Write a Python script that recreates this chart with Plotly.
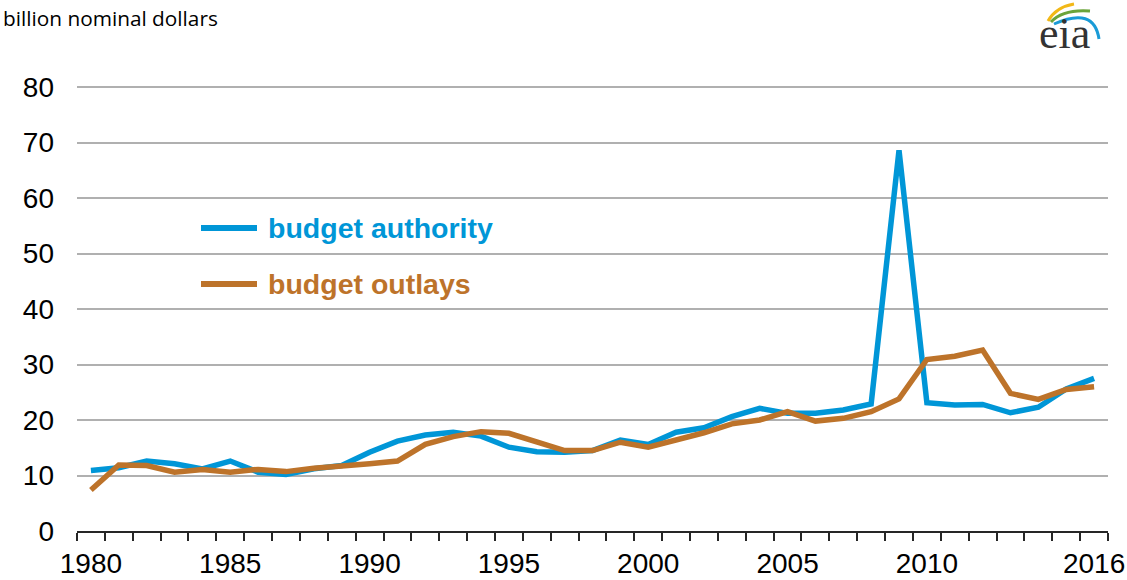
import plotly.graph_objects as go

years = list(range(1980, 2017))
budget_authority = [10.9, 11.4, 12.6, 12.1, 11.2, 12.6, 10.6, 10.2, 11.2, 11.8,
                    14.2, 16.2, 17.3, 17.8, 17.1, 15.1, 14.3, 14.2, 14.5, 16.4,
                    15.6, 17.8, 18.6, 20.6, 22.1, 21.2, 21.2, 21.8, 22.9, 68.6,
                    23.1, 22.7, 22.8, 21.3, 22.3, 25.6, 27.5]
budget_outlays = [7.4, 11.9, 11.8, 10.6, 11.1, 10.6, 11.1, 10.7, 11.3, 11.6,
                  12.1, 12.6, 15.6, 17.0, 17.9, 17.6, 16.1, 14.5, 14.5, 16.0,
                  15.1, 16.4, 17.7, 19.3, 20.0, 21.5, 19.8, 20.3, 21.5, 23.8,
                  30.9, 31.5, 32.6, 24.8, 23.7, 25.5, 26.0]
x_tick_vals = [1980, 1985, 1990, 1995, 2000, 2005, 2010, 2016]
y_tick_vals = [0, 10, 20, 30, 40, 50, 60, 70, 80]

BLUE = "#0096D7"
ORANGE = "#BD732A"

W, H = 1127, 580
L, R, T, B = 77, 19, 85, 49
PW, PH = W - L - R, H - T - B


def px(x, y):
    """pixel position -> paper coordinates (for decorations only)"""
    return (x - L) / PW, (H - B - y) / PH


fig = go.Figure()
fig.add_trace(go.Scatter(x=years, y=budget_authority, mode="lines",
                         line=dict(color=BLUE, width=5.5), name="budget authority",
                         showlegend=False))
fig.add_trace(go.Scatter(x=years, y=budget_outlays, mode="lines",
                         line=dict(color=ORANGE, width=5.5), name="budget outlays",
                         showlegend=False))

shapes = []
annotations = []

# legend (manual)
for (lx, ly, col, txt) in [(201, 228, BLUE, "budget authority"),
                           (201, 284, ORANGE, "budget outlays")]:
    x0, y0 = px(lx, ly)
    x1, _ = px(lx + 56, ly)
    shapes.append(dict(type="line", xref="paper", yref="paper", x0=x0, x1=x1,
                       y0=y0, y1=y0, line=dict(color=col, width=6)))
    tx, ty = px(lx + 65, ly)
    annotations.append(dict(xref="paper", yref="paper", x=tx, y=ty,
                            xanchor="left", yanchor="middle", showarrow=False,
                            text="<b>" + txt + "</b>",
                            font=dict(family="Liberation Sans, Arial", size=28.5, color=col)))

# unit label
ux, uy = px(1, 18)
annotations.append(dict(xref="paper", yref="paper", x=ux, y=uy, xanchor="left",
                        yanchor="middle", showarrow=False, text="billion nominal dollars",
                        font=dict(family="Open Sans", size=20.8, color="#000000")))

# eia logo
ex, ey = px(1064, 33)
annotations.append(dict(xref="paper", yref="paper", x=ex, y=ey, xanchor="center",
                        yanchor="middle", showarrow=False, text="eia",
                        font=dict(family="Liberation Serif", size=44, color="#333333")))


def path(points):
    pts = [px(a, b) for a, b in points]
    s = "M%.5f,%.5f" % pts[0]
    s += " Q%.5f,%.5f %.5f,%.5f" % (pts[1] + pts[2])
    return s


for pts, col, w in [([(1048, 21), (1056, 7), (1074, 4)], "#F2B817", 3),
                    ([(1051, 22), (1063, 9), (1090, 11)], "#6BA43A", 3),
                    ([(1054, 24), (1094, 6), (1099, 39)], "#1A9BD7", 3)]:
    shapes.append(dict(type="path", xref="paper", yref="paper", path=path(pts),
                       line=dict(color=col, width=w)))

fig.update_layout(
    width=W, height=H, autosize=False,
    margin=dict(l=L, r=R, t=T, b=B, pad=0),
    paper_bgcolor="white", plot_bgcolor="white",
    showlegend=False,
    shapes=shapes, annotations=annotations,
    xaxis=dict(range=[1979.5, 2016.5], tickmode="array", tickvals=x_tick_vals,
               ticktext=[str(v) for v in x_tick_vals], ticks="", showgrid=False,
               zeroline=False, showline=True, linecolor="#262626", linewidth=2,
               automargin=False,
               tickfont=dict(family="Liberation Sans, Arial", size=28, color="#000000"),
               ticklabelstandoff=6,
               minor=dict(tick0=1979.5, dtick=1, ticks="outside", ticklen=8,
                          tickwidth=2, tickcolor="#262626", showgrid=False)),
    yaxis=dict(range=[0, 80.36], tickmode="array", tickvals=y_tick_vals, ticks="",
               showgrid=True, gridcolor="#B0B0B0", gridwidth=2, zeroline=False,
               showline=False, automargin=False,
               tickfont=dict(family="Liberation Sans, Arial", size=28, color="#000000"),
               ticklabelstandoff=22),
)

fig.write_html("out.html", config={"displayModeBar": False},
               post_script="document.body.style.margin='0';document.body.style.overflow='hidden';")
